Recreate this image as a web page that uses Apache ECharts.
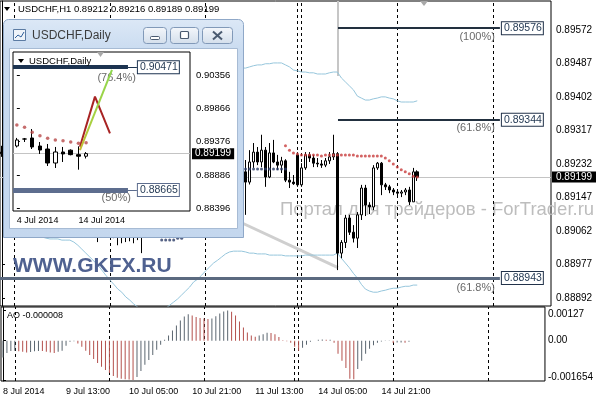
<!DOCTYPE html>
<html><head><meta charset="utf-8">
<script src="https://cdn.jsdelivr.net/npm/echarts@6/dist/echarts.min.js"></script>
<style>html,body{margin:0;padding:0;background:#fff}#c{width:596px;height:400px}</style>
</head><body><div id="c"></div><script>
// ---------- data: main H1 chart ----------
const hourSessions = [['8 Jul',21,23],['9 Jul',0,23],['10 Jul',0,23],['11 Jul',0,22],['13 Jul',23,23],['14 Jul',0,23],['15 Jul',0,23],['16 Jul',0,23]];
const firstDateLabel = '8 Jul 2014';
const hourLabelIdx = [0,16,32,48,64,80,96];
const daySeparators = [3,27,51,74,75,99,123];
const priceTicks = [0.89572,0.89487,0.89402,0.89317,0.89232,0.89147,0.89062,0.88977,0.88892];
const currentPrice = 0.89199;

const h1Open = [
.89262,.89258,.89262,.89266,.89272,.89264,.89255,.89260,.89275,.89290,
.89280,.89252,.89262,.89276,.89258,.89250,.89256,.89268,.89244,.89226,
.89208,.89140,.89096,.89066,.89078,.89060,.89064,.89058,.89052,.89060,
.89048,.89054,.89046,.89056,.89050,.89068,.89072,.89104,.89128,.89144,
.89158,.89172,.89192,.89218,.89248,.89272,.89252,.89242,.89236,.89230,
.89228,.89223,.89232,.89252,.89246,.89272,.89242,.89226,.89194,.89216,
.89246,.89212,.89186,.89237,.89262,.89237,.89267,.89199,.89260,.89237,
.89229,.89240,.89191,.89186,.89255,.89179,.89222,.89255,.89247,.89234,
.89232,.89229,.89240,.89250,.89258,.89006,.89033,.89095,.89059,.89044,
.89103,.89171,.89128,.89123,.89222,.89234,.89179,.89174,.89166,.89161,
.89158,.89161,.89166,.89136,.89212];
const h1Close = [
.89258,.89262,.89266,.89272,.89264,.89255,.89260,.89275,.89290,.89280,
.89252,.89262,.89276,.89258,.89250,.89256,.89268,.89244,.89226,.89208,
.89140,.89096,.89066,.89078,.89060,.89064,.89058,.89052,.89060,.89048,
.89054,.89046,.89056,.89050,.89068,.89072,.89104,.89128,.89144,.89158,
.89172,.89192,.89218,.89248,.89272,.89252,.89242,.89236,.89230,.89228,
.89223,.89232,.89252,.89246,.89272,.89242,.89226,.89194,.89216,.89246,
.89212,.89186,.89237,.89262,.89237,.89267,.89199,.89260,.89237,.89229,
.89240,.89191,.89186,.89182,.89179,.89222,.89255,.89247,.89234,.89232,
.89229,.89240,.89250,.89258,.89006,.89033,.89095,.89059,.89044,.89103,
.89171,.89128,.89123,.89222,.89234,.89179,.89174,.89166,.89161,.89158,
.89161,.89166,.89136,.89212,.89199];
const h1High = [
.89278,.89268,.89272,.89282,.89286,.89270,.89266,.89280,.89300,.89306,
.89290,.89268,.89284,.89282,.89270,.89264,.89276,.89274,.89255,.89238,
.89222,.89158,.89112,.89090,.89086,.89074,.89072,.89070,.89066,.89068,
.89062,.89066,.89060,.89070,.89078,.89082,.89112,.89136,.89152,.89166,
.89182,.89202,.89232,.89262,.89297,.89286,.89268,.89258,.89252,.89246,
.89240,.89238,.89262,.89276,.89282,.89292,.89266,.89252,.89232,.89262,
.89256,.89242,.89267,.89285,.89275,.89306,.89275,.89285,.89293,.89255,
.89250,.89244,.89212,.89204,.89262,.89234,.89262,.89262,.89255,.89247,
.89242,.89247,.89262,.89306,.89262,.89039,.89103,.89103,.89077,.89110,
.89179,.89179,.89135,.89229,.89237,.89237,.89184,.89179,.89171,.89166,
.89166,.89171,.89174,.89222,.89216];
const h1Low = [
.89250,.89248,.89255,.89258,.89260,.89250,.89245,.89255,.89268,.89272,
.89245,.89238,.89255,.89250,.89240,.89238,.89248,.89236,.89218,.89198,
.89118,.89082,.89052,.89048,.89034,.89048,.89050,.89046,.89044,.89026,
.89031,.89034,.89036,.89031,.89039,.89006,.89064,.89092,.89112,.89128,
.89142,.89156,.89178,.89204,.89232,.89240,.89232,.89224,.89218,.89220,
.89218,.89210,.89226,.89236,.89240,.89232,.89216,.89176,.89180,.89202,
.89196,.89103,.89180,.89222,.89229,.89224,.89174,.89196,.89234,.89217,
.89209,.89186,.89171,.89179,.89174,.89174,.89217,.89237,.89224,.89224,
.89222,.89224,.89232,.89242,.88963,.88993,.89019,.89052,.89033,.89019,
.89090,.89100,.89105,.89115,.89217,.89153,.89166,.89158,.89153,.89153,
.89148,.89153,.89128,.89136,.89189];

const upperBandStart = 58;
const upperBand = [.89470,.89473,.89475,
.89475,.89478,.89481,.89483,.89483,.89486,.89486,.89488,.89488,.89488,
.89483,.89478,.89470,.89468,.89465,.89465,.89463,.89463,.89460,.89460,.89460,.89463,.89465,.89465,
.89450,.89440,.89430,.89420,.89404,.89399,.89394,.89394,.89397,.89399,.89402,.89402,.89399,.89397,.89392,.89389,.89389,.89389,.89389,.89392];
const lowerBandStart = 10;
const lowerBand = [
.89047,.89044,.89042,.89042,.89042,.89039,.89039,.89039,.89034,.89026,
.89016,.89006,.88996,.88986,.88976,.88963,.88950,.88938,.88927,.88915,
.88907,.88895,.88887,.88877,.88869,.88861,.88856,.88854,.88854,.88856,
.88861,.88866,.88874,.88882,.88890,.88900,.88910,.88920,.88933,.88940,
.88950,.88961,.88971,.88981,.88988,.88996,.89004,.89009,.89011,.89011,
.89011,.89009,.89006,.89006,.89004,.89004,.89004,.89001,.89001,.89001,
.89001,.88999,.88999,.88999,.88999,.88999,.89001,.89001,.89001,.89001,
.89001,.89001,.89001,.89001,.89006,.88993,.88981,.88969,.88955,.88943,
.88927,.88915,.88910,.88907,.88907,.88910,.88912,.88915,.88917,.88917,
.88920,.88922,.88922,.88925,.88925];
const redDotsStart = 71;
const redDots = [.89278,.89267,.89260,.89257,
.89255,.89255,.89255,.89255,.89255,.89252,.89255,.89255,.89255,.89255,
.89255,.89255,.89255,.89255,.89252,.89252,.89252,.89252,.89252,.89252,
.89252,.89247,.89240,.89232,.89224,.89217,.89212,.89207,.89201,.89199];
const blueDotsA_start = 40;
const blueDotsA = [.89039,.89039,.89039,.89039,.89044,.89044];
const blueDotsB_start = 60;
const blueDotsB = [.89219,.89219,.89219,.89219,.89219,.89219,.89219,.89219,.89219,.89219,.89219,.89219];
const trendLine = [[60,.89083],[84.15,.88969]];
const anchorLine = [[84.15,.89645],[84.15,.89455]];
const fibLevels = [
  {price:0.89576, pct:'(100%)', from:84.15, to:124.7},
  {price:0.89344, pct:'(61.8%)', from:84.15, to:124.7},
  {price:0.88943, pct:'(61.8%)', from:-0.5, to:124.7}
];

// ---------- data: AO ----------
const aoTicks = [0.00127, 0, -0.001654];
const aoValues = [
-0.000711,-0.000520,-0.000440,-0.000425,-0.000450,-0.000470,-0.000500,-0.000480,-0.000445,-0.000430,
-0.000440,-0.000465,-0.000500,-0.000515,-0.000470,-0.000420,-0.000210,-0.000050,-0.000020,-0.000120,
-0.000260,-0.000425,-0.000600,-0.000770,-0.000940,-0.001100,-0.001240,-0.001360,-0.001490,-0.001560,
-0.001600,-0.001625,-0.001640,-0.001654,-0.001530,-0.001280,-0.001020,-0.000810,-0.000600,-0.000385,
-0.000170,0.000040,0.000215,0.000425,0.000640,0.000850,0.001020,0.001110,0.001065,0.001000,
0.000960,0.000935,0.000915,0.000940,0.001025,0.001150,0.001235,0.001270,0.001215,0.001065,
0.000810,0.000555,0.000340,0.000215,0.000170,0.000215,0.000275,0.000330,0.000320,0.000275,
0.000150,0.000020,-0.000020,-0.000085,-0.000255,-0.000425,-0.000300,-0.000170,-0.000045,0.000000,
0.000040,0.000045,0.000035,0.000040,-0.000085,-0.000555,-0.000850,-0.001150,-0.001600,-0.001630,
-0.001190,-0.000850,-0.000555,-0.000340,-0.000190,-0.000085,-0.000030,0.000005,0.000010,-0.000100,
-0.000080,-0.000075,-0.000085,-0.000040,-0.000008];

// ---------- data: inset daily chart ----------
const dayCats = ['4 Jul 2014','6 Jul 2014','7 Jul 2014','8 Jul 2014','9 Jul 2014','10 Jul 2014','11 Jul 2014','13 Jul 2014','14 Jul 2014','15 Jul 2014'];
const dayLabelIdx = [0,8];
const insetTicks = [0.90356,0.89866,0.89376,0.88886,0.88396];
const dOpen  = [.89311,.89414,.89429,.89311,.89267,.89061,.89223,.89250,.89184,.89161];
const dHigh  = [.89430,.89429,.89561,.89370,.89341,.89297,.89297,.89262,.89306,.89222];
const dLow   = [.89290,.89370,.89267,.89194,.89017,.88988,.89076,.89174,.88963,.89128];
const dClose = [.89400,.89414,.89297,.89252,.89061,.89223,.89194,.89184,.89161,.89199];
const dSar   = [.89620,.89586,.89512,.89463,.89424,.89400,.89390,.89370,.89350,.89360];
const redPath = [[8.2,.89301],[10.15,.90037],[12.1,.89498]];
const greenPath = [[8.2,.89252],[12.36,.90430]];
const insetLevels = [
  {price:0.90471, pct:'(76.4%)', barEnd:14.44, boxEnd:15.6},
  {price:0.88665, pct:'(50%)', barEnd:14.44, boxEnd:15.6}
];

// ---------- build ----------
const FONT = 'Liberation Sans';
const CLEAR = 'rgba(0,0,0,0)';
const hourCats = [];
hourSessions.forEach(([d,a,b]) => { for (let h=a; h<=b; h++) hourCats.push(d + ' ' + String(h).padStart(2,'0') + ':00'); });
const hourLabel = i => i === 0 ? firstDateLabel : hourCats[i];

const candleData = h1Open.map((o,i) => [i, o, h1Close[i], h1Low[i], h1High[i]]);
const seq = (start, arr) => arr.map((v,k) => [start + k, v]);
const aoData = aoValues.map((v,i) => ({
  value:[i, v],
  itemStyle:{color: (i > 0 && v < aoValues[i-1]) ? '#b4504c' : '#5b6670'}
}));
const dCandles = dOpen.map((o,i) => [i, o, dClose[i], dLow[i], dHigh[i]]);

const sepLines = daySeparators.map(i => ({xAxis:i}));
const fibMarks = [];
fibLevels.forEach((f, k) => {
  const last = k === 2;
  const col = last ? '#5b6a80' : '#22303f';
  fibMarks.push([{coord:[f.from, f.price], lineStyle:{color:col, width: last ? 3 : 2, type:'solid'},
      label:{show:true, position:'end', distance:[2,0], formatter: f.price.toFixed(5),
        backgroundColor:'#fff', borderColor:'#22324a', borderWidth:1, padding:[1,1,0,2],
        color:'#1f3550', fontSize:10.5, fontFamily:FONT}},
    {coord:[f.to, f.price]}]);
  fibMarks.push([{coord:[f.from, f.price], lineStyle:{color:CLEAR, width:0},
      label:{show:true, position:'insideEndBottom', distance:[5, last ? 4 : 3], formatter:f.pct,
        color:'#6a6a6a', fontSize:11, fontFamily:FONT}},
    {coord:[f.to, f.price]}]);
});

const insetMarks = [];
insetLevels.forEach((L, k) => {
  const col = k === 0 ? '#1c3350' : '#5d6d8e';
  insetMarks.push([{coord:[-0.5, L.price], lineStyle:{color:col, width: k === 0 ? 4 : 5, type:'solid'}, label:{show:false}},
    {coord:[L.barEnd, L.price]}]);
  insetMarks.push([{coord:[L.barEnd, L.price], lineStyle:{color:col, width:1, type:'solid'},
      label:{show:true, position:'end', distance:[1,0], formatter:L.price.toFixed(5),
        backgroundColor:'#fff', borderColor:col, borderWidth:1, padding:[1,1,0,2],
        color:'#1f3550', fontSize:10.5, fontFamily:FONT}},
    {coord:[L.boxEnd, L.price]}]);
  insetMarks.push([{coord:[L.barEnd, L.price], lineStyle:{color:CLEAR, width:0},
      label:{show:true, position:'insideEndBottom', distance:[k === 0 ? 1 : 6, k === 0 ? 5 : 3], formatter:L.pct,
        color:'#6a6a6a', fontSize:11, fontFamily:FONT}},
    {coord:[L.boxEnd, L.price]}]);
});
insetMarks.push([{coord:[-0.5, currentPrice], lineStyle:{color:'#c4c4c4', width:1, type:'solid'},
  label:{show:true, position:'end', distance:[2,0], formatter: currentPrice.toFixed(5),
    backgroundColor:'#000', color:'#fff', padding:[1,3,0,3], fontSize:10, fontFamily:FONT}},
  {coord:[22.5, currentPrice]}]);

const Z = 1; // layer for the floating window
const option = {
  animation:false,
  textStyle:{fontFamily:FONT},
  grid:[
    {left:0, right:45, top:1, bottom:94, show:true, borderColor:'#000', borderWidth:1, backgroundColor:'#fff'},
    {left:0, right:45, top:307, bottom:19, show:true, borderColor:'#000', borderWidth:1, backgroundColor:'#fff'},
    {left:13, top:52, width:177, height:159, show:true, borderColor:'#000', borderWidth:1, backgroundColor:'#fff', zlevel:Z, z:101}
  ],
  xAxis:[
    {gridIndex:0, type:'value', min:-0.5, max:137.5, show:false},
    {gridIndex:1, type:'value', min:-0.5, max:137.5,
      axisLine:{show:false}, splitLine:{show:false}, axisTick:{show:false},
      axisLabel:{customValues:hourLabelIdx, formatter:v => hourLabel(Math.round(v)), fontSize:9, color:'#000', align:'left', margin:6}},
    {gridIndex:2, type:'value', min:-0.5, max:22.5, zlevel:Z, z:102,
      axisLine:{show:false}, splitLine:{show:false}, axisTick:{show:false},
      axisLabel:{customValues:dayLabelIdx, formatter:v => dayCats[Math.round(v)], fontSize:9, color:'#000', align:'left', margin:5}}
  ],
  yAxis:[
    {gridIndex:0, type:'value', position:'right', min:0.88872, max:0.89645, splitLine:{show:false},
      axisLine:{show:true, lineStyle:{color:'#000'}},
      axisTick:{show:true, customValues:priceTicks, length:3, lineStyle:{color:'#000'}},
      axisLabel:{customValues:priceTicks, formatter:v => v.toFixed(5), fontSize:10, color:'#000', margin:5}},
    {gridIndex:1, type:'value', position:'right', min:-0.0017, max:0.00142, splitLine:{show:false},
      axisLine:{show:true, lineStyle:{color:'#000'}},
      axisTick:{show:true, customValues:aoTicks, length:3, lineStyle:{color:'#000'}},
      axisLabel:{customValues:aoTicks, fontSize:10, color:'#000', margin:3,
        formatter:v => v === 0 ? '0.00' : (v > 0 ? '{t|' + v + '}' : '{b|' + v + '}'),
        rich:{t:{padding:[8,0,0,0], fontSize:10, color:'#000'}, b:{padding:[0,0,5,0], fontSize:10, color:'#000'}}}},
    {gridIndex:2, type:'value', position:'right', min:0.88355, max:0.90694, splitLine:{show:false}, zlevel:Z, z:102,
      axisLine:{show:false},
      axisTick:{show:true, customValues:insetTicks, length:3, lineStyle:{color:'#000'}},
      axisLabel:{customValues:insetTicks, formatter:v => v.toFixed(5), fontSize:9.5, color:'#000', margin:6}}
  ],
  series:[
    {type:'line', xAxisIndex:0, yAxisIndex:0, data:[], z:1,
      markLine:{silent:true, symbol:['none','none'], z:1, label:{show:false},
        lineStyle:{color:'#000', width:1, type:[3,3]}, data:sepLines}},
    {type:'line', xAxisIndex:0, yAxisIndex:0, data:[], z:1,
      markLine:{silent:true, symbol:['none','none'], z:1, label:{show:false},
        data:[
          [{coord:trendLine[0], lineStyle:{color:'#cfcfcf', width:3, type:'solid'}},{coord:trendLine[1]}],
          [{coord:anchorLine[0], lineStyle:{color:'#c6c6c6', width:2, type:'solid'}},{coord:anchorLine[1]}]
        ]}},
    {type:'line', xAxisIndex:0, yAxisIndex:0, data:seq(upperBandStart, upperBand), symbol:'none',
      lineStyle:{color:'#96c6dc', width:1}, z:2},
    {type:'line', xAxisIndex:0, yAxisIndex:0, data:seq(lowerBandStart, lowerBand), symbol:'none',
      lineStyle:{color:'#96c6dc', width:1}, z:2},
    {type:'candlestick', xAxisIndex:0, yAxisIndex:0, data:candleData, encode:{x:0, y:[1,2,3,4]},
      barWidth:3, z:4,
      itemStyle:{color:'#fff', color0:'#000', borderColor:'#000', borderColor0:'#000', borderWidth:1},
      markLine:{silent:true, symbol:['none','none'], z:3,
        data:[...fibMarks,
          [{coord:[-0.5, currentPrice], lineStyle:{color:'#c4c4c4', width:1, type:'solid'},
            label:{show:true, position:'end', distance:[1,0], formatter:currentPrice.toFixed(5),
              backgroundColor:'#000', color:'#fff', padding:[1,4,0,4], fontSize:10, fontFamily:FONT}},
           {coord:[137.5, currentPrice]}]]}},
    {type:'scatter', xAxisIndex:0, yAxisIndex:0, data:seq(redDotsStart, redDots), symbol:'circle', symbolSize:3,
      itemStyle:{color:'#c83c3c'}, z:5},
    {type:'scatter', xAxisIndex:0, yAxisIndex:0, data:seq(blueDotsA_start, blueDotsA).concat(seq(blueDotsB_start, blueDotsB)),
      symbol:'circle', symbolSize:3, itemStyle:{color:'#2c3c66'}, z:5},
    // AO
    {type:'bar', xAxisIndex:1, yAxisIndex:1, data:aoData, barWidth:1, z:3,
      markLine:{silent:true, symbol:['none','none'], z:1, label:{show:false},
        lineStyle:{color:'#000', width:1, type:[3,3]}, data:sepLines}},
    // inset window chart
    {type:'candlestick', xAxisIndex:2, yAxisIndex:2, data:dCandles, encode:{x:0, y:[1,2,3,4]},
      barWidth:4, zlevel:Z, z:104,
      itemStyle:{color:'#fff', color0:'#000', borderColor:'#000', borderColor0:'#000', borderWidth:1},
      markLine:{silent:true, symbol:['none','none'], zlevel:Z, z:103, data:insetMarks}},
    {type:'scatter', xAxisIndex:2, yAxisIndex:2, data:dSar.map((v,i)=>[i,v]), symbol:'circle', symbolSize:3.5,
      itemStyle:{color:'#b84848'}, zlevel:Z, z:105},
    {type:'line', xAxisIndex:2, yAxisIndex:2, data:redPath, symbol:'none', zlevel:Z, z:105,
      lineStyle:{color:'#a82424', width:2}},
    {type:'line', xAxisIndex:2, yAxisIndex:2, data:greenPath, symbol:'none', zlevel:Z, z:106,
      lineStyle:{width:2, color:{type:'linear', x:0, y:1, x2:0, y2:0,
        colorStops:[{offset:0, color:'#c8b830'},{offset:0.35, color:'#a8d040'},{offset:1, color:'#8ed850'}]}}}
  ],
  graphic:{elements:[
    // main header
    {type:'polygon', shape:{points:[[4,7],[10,7],[7,11]]}, style:{fill:'#000'}, z:50},
    {type:'text', x:18, y:9, style:{text:'USDCHF,H1 0.89212 0.89216 0.89189 0.89199', fontSize:9.5, fontFamily:FONT, fill:'#000', verticalAlign:'middle'}, z:50},
    {type:'polygon', shape:{points:[[420,1],[428,1],[424,6]]}, style:{fill:'#a8a8a8'}, z:50},
    {type:'text', x:7, y:316, style:{text:'AO -0.000008', fontSize:9, fontFamily:FONT, fill:'#000', verticalAlign:'middle'}, z:50},
    // watermarks
    {type:'text', x:280, y:210, style:{text:'Портал для трейдеров - ForTrader.ru', fontSize:18.5, fontFamily:FONT, fill:'#bdbdbd', verticalAlign:'middle'}, z:1},
    {type:'text', x:13, y:266, style:{text:'WWW.GKFX.RU', fontSize:21, fontWeight:'bold', fontFamily:FONT, fill:'#4f6190', verticalAlign:'middle'}, z:6},
    // floating window frame
    {type:'rect', zlevel:Z, z:100, shape:{x:3.5, y:19.5, width:240, height:218, r:[5,5,0,0]},
      style:{fill:{type:'linear', x:0, y:0, x2:0, y2:1, colorStops:[{offset:0, color:'#dce8f6'},{offset:0.15, color:'#c9dbf0'},{offset:1, color:'#c4d7ee'}]},
        stroke:'#8fa8c8', lineWidth:1}},
    {type:'rect', zlevel:Z, z:100, shape:{x:9.5, y:48.5, width:228, height:180}, style:{fill:'#fff', stroke:'#a7bbd4', lineWidth:1}},
    {type:'rect', zlevel:Z, z:101, shape:{x:13.5, y:29.5, width:12, height:11}, style:{fill:'#eef3f9', stroke:'#5b7ba3', lineWidth:1}},
    {type:'polyline', zlevel:Z, z:102, shape:{points:[[15,38],[18,35],[21,37],[24,32]]}, style:{stroke:'#2f5f9a', lineWidth:1, fill:null}},
    {type:'text', zlevel:Z, z:102, x:32, y:36, style:{text:'USDCHF,Daily', fontSize:12, fontFamily:FONT, fill:'#3c3c3c', verticalAlign:'middle'}},
    {type:'rect', zlevel:Z, z:101, shape:{x:143.5, y:27.5, width:23, height:16, r:3},
      style:{fill:{type:'linear', x:0, y:0, x2:0, y2:1, colorStops:[{offset:0, color:'#f4f7fb'},{offset:1, color:'#d3deeb'}]}, stroke:'#8199b8', lineWidth:1}},
    {type:'rect', zlevel:Z, z:101, shape:{x:170.5, y:27.5, width:28, height:16, r:3},
      style:{fill:{type:'linear', x:0, y:0, x2:0, y2:1, colorStops:[{offset:0, color:'#f4f7fb'},{offset:1, color:'#d3deeb'}]}, stroke:'#8199b8', lineWidth:1}},
    {type:'rect', zlevel:Z, z:101, shape:{x:202.5, y:27.5, width:30, height:16, r:3},
      style:{fill:{type:'linear', x:0, y:0, x2:0, y2:1, colorStops:[{offset:0, color:'#f4f7fb'},{offset:1, color:'#d3deeb'}]}, stroke:'#8199b8', lineWidth:1}},
    {type:'rect', zlevel:Z, z:102, shape:{x:150.5, y:36.5, width:9, height:3, r:1}, style:{fill:'#fff', stroke:'#4a5a70', lineWidth:1}},
    {type:'rect', zlevel:Z, z:102, shape:{x:180.5, y:31.5, width:8, height:7, r:1}, style:{fill:'#fff', stroke:'#4a5a70', lineWidth:1.2}},
    {type:'line', zlevel:Z, z:102, shape:{x1:213, y1:31.5, x2:222, y2:39.5}, style:{stroke:'#4a5a70', lineWidth:2}},
    {type:'line', zlevel:Z, z:102, shape:{x1:222, y1:31.5, x2:213, y2:39.5}, style:{stroke:'#4a5a70', lineWidth:2}},
    // inset chart header
    {type:'polygon', zlevel:Z, z:110, shape:{points:[[18,59],[24,59],[21,63]]}, style:{fill:'#000'}},
    {type:'text', zlevel:Z, z:110, x:29, y:61, style:{text:'USDCHF,Daily', fontSize:9.5, fontFamily:FONT, fill:'#000', verticalAlign:'middle'}},
    {type:'polygon', zlevel:Z, z:110, shape:{points:[[97,52],[104,52],[100.5,57]]}, style:{fill:'#a8a8a8'}}
  ]}
};
const chart = echarts.init(document.getElementById('c'), null, {renderer:'canvas'});
chart.setOption(option);
</script></body></html>
